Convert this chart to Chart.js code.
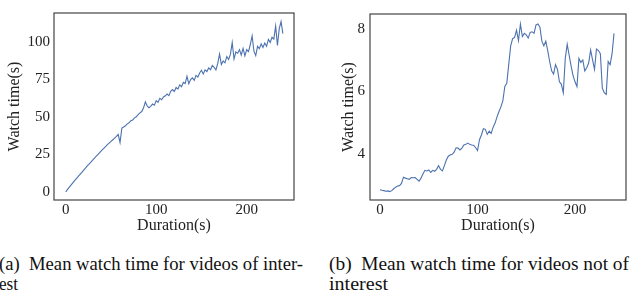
<!DOCTYPE html>
<html>
<head>
<meta charset="utf-8">
<script src="https://cdn.jsdelivr.net/npm/chart.js@4/dist/chart.umd.min.js"></script>
<style>
  html, body { margin: 0; padding: 0; background: #fff; }
  body { width: 631px; height: 296px; position: relative; overflow: hidden; }
  canvas { position: absolute; top: 0; }
  .cap { position: absolute; font-family: "Liberation Serif", "Times New Roman", Times, "DejaVu Serif", serif; font-size: 18.5px; line-height: 20px; color: #111; white-space: pre; transform-origin: 0 0; }
</style>
</head>
<body>
<canvas id="c1" width="300" height="240" style="left:0px"></canvas>
<canvas id="c2" width="311" height="240" style="left:320px"></canvas>
<div class="cap" id="capA1" style="left:-1px; top:253.8px">(a)  Mean watch time for videos of inter-</div>
<div class="cap" id="capA2" style="left:-1px; top:274.3px">est</div>
<div class="cap" id="capB1" style="left:329px; top:253.8px">(b)  Mean watch time for videos not of</div>
<div class="cap" id="capB2" style="left:329px; top:274.3px">interest</div>
<script>
// Data
const durations = [];
for (let d = 0; d <= 240; d += 2) durations.push(d);

const watchInterest = [
  0, 1.6, 3.1, 4.6, 6.1, 7.6, 9.0, 10.4, 11.8, 13.2,
  14.6, 16.0, 17.4, 18.7, 20.0, 21.3, 22.6, 23.9, 25.2, 26.5,
  27.8, 29.0, 30.2, 31.4, 32.5, 33.6, 34.7, 35.8, 36.9, 38.2,
  32.8, 42.5, 43.2, 44.0, 45.3, 46.0, 47.4, 47.9, 49.3, 50.0,
  51.4, 52.6, 53.5, 56.0, 60.0, 57.2, 56.0, 57.1, 58.5, 57.8,
  60.8, 59.6, 62.3, 61.4, 63.2, 64.0, 65.2, 64.1, 67.0, 68.2,
  66.9, 69.6, 68.5, 71.3, 70.1, 73.0, 72.2, 77.0, 72.0, 74.8,
  76.0, 74.3, 77.6, 76.5, 79.2, 81.0, 78.6, 81.3, 80.2, 82.6,
  81.4, 84.2, 83.0, 81.2, 85.6, 91.8, 84.8, 87.2, 86.0, 90.2,
  88.2, 91.6, 99.5, 88.5, 93.2, 92.4, 94.8, 91.2, 95.6, 90.6,
  94.8, 93.4, 98.2, 104.0, 93.8, 90.8, 97.0, 95.4, 98.6, 96.2,
  99.2, 97.0, 101.6, 99.6, 103.0, 101.8, 110.5, 97.5, 108.8, 113.5,
  105.5
];

const watchNotInterest = [
  2.85, 2.83, 2.82, 2.80, 2.81, 2.79, 2.82, 2.88, 2.93, 2.97,
  2.98, 3.05, 3.25, 3.22, 3.20, 3.18, 3.24, 3.23, 3.24, 3.18,
  3.12, 3.22, 3.35, 3.47, 3.45, 3.48, 3.40, 3.47, 3.44, 3.50,
  3.62, 3.50, 3.45, 3.62, 3.80, 3.92, 3.96, 3.98, 4.05, 4.19,
  4.18, 4.12, 4.18, 4.28, 4.30, 4.34, 4.30, 4.28, 4.27, 4.20,
  4.10, 4.45, 4.60, 4.80, 4.78, 4.62, 4.72, 4.65, 4.85, 4.98,
  5.18, 5.35, 5.50, 5.70, 6.15, 6.25, 6.85, 7.45, 7.68, 7.72,
  7.95, 7.62, 8.15, 7.75, 7.85, 7.80, 7.70, 7.88, 7.90, 7.85,
  8.12, 8.15, 8.05, 7.60, 7.45, 7.60, 7.30, 6.95, 6.65, 6.55,
  6.85, 6.70, 6.30, 6.22, 5.95, 7.05, 7.50, 7.15, 6.80, 6.50,
  6.30, 6.15, 7.05, 6.92, 7.00, 6.65, 6.75, 6.90, 7.32, 7.00,
  6.70, 7.35, 7.30, 7.20, 6.10, 5.95, 5.90, 6.95, 6.85, 7.20,
  7.85
];

const xTickValues = [0, 100, 200];
const yTicksInterest = [0, 25, 50, 75, 100];
const yTicksNotInterest = [4, 6, 8];

const xTitle = 'Duration(s)';
const yTitle = 'Watch time(s)';

// Styles
const LINE = '#4c72b0';
const TXT = '#222';
const FONT = "'Liberation Serif', 'Times New Roman', Times, 'DejaVu Serif', serif";

const framePlugin = {
  id: 'frame',
  afterDraw(chart) {
    const {ctx, chartArea: a} = chart;
    ctx.save();
    ctx.strokeStyle = '#444';
    ctx.lineWidth = 1.2;
    ctx.strokeRect(a.left, a.top, a.right - a.left, a.bottom - a.top);
    ctx.restore();
  }
};

function makeChart(id, values, yTicks, cfg) {
  const pts = durations.map((d, i) => ({x: d, y: values[i]}));
  return new Chart(document.getElementById(id), {
    type: 'line',
    data: { datasets: [{ data: pts, borderColor: LINE, borderWidth: 1.1, pointRadius: 0, tension: 0, fill: false }] },
    options: {
      responsive: false,
      animation: false,
      events: [],
      layout: { padding: { left: 0, right: cfg.padRight, top: 10, bottom: 0 } },
      plugins: { legend: { display: false }, tooltip: { enabled: false } },
      scales: {
        x: {
          type: 'linear', min: cfg.xMin, max: cfg.xMax,
          grid: { display: false, drawTicks: false },
          border: { display: false },
          afterBuildTicks(s) { s.ticks = xTickValues.map(v => ({value: v})); },
          afterFit(s) { s.height = 40; },
          ticks: { color: TXT, padding: 1, font: { family: FONT, size: 15 }, maxRotation: 0, autoSkip: false },
          title: { display: true, text: xTitle, color: TXT, font: { family: FONT, size: 16 }, padding: { top: 0, bottom: 5 } }
        },
        y: {
          type: 'linear', min: cfg.yMin, max: cfg.yMax,
          grid: { display: false, drawTicks: false },
          border: { display: false },
          afterBuildTicks(s) { s.ticks = yTicks.map(v => ({value: v})); },
          afterFit(s) { s.width = cfg.yWidth; },
          ticks: { color: TXT, padding: cfg.yTickPad, font: { family: FONT, size: 15 }, autoSkip: false },
          title: { display: true, text: yTitle, color: TXT, font: { family: FONT, size: 16 }, padding: { top: cfg.yTitlePad, bottom: 0 } }
        }
      }
    },
    plugins: [framePlugin]
  });
}

makeChart('c1', watchInterest, yTicksInterest, {
  xMin: -13, xMax: 252.3, yMin: -5.45, yMax: 119.2,
  padRight: 6, yWidth: 54, yTickPad: 4, yTitlePad: 5.6
});
makeChart('c2', watchNotInterest, yTicksNotInterest, {
  xMin: -10.3, xMax: 252.3, yMin: 2.52, yMax: 8.47,
  padRight: 5, yWidth: 50, yTickPad: 5, yTitlePad: 18.7
});

// Fit caption lines to the widths of the original typesetting
function fit(id, target) {
  const el = document.getElementById(id);
  const w = el.getBoundingClientRect().width;
  el.style.transform = 'scaleX(' + (target / w) + ')';
}
fit('capA1', 304);
fit('capA2', 19);
fit('capB1', 300);
fit('capB2', 59);
</script>
</body>
</html>
